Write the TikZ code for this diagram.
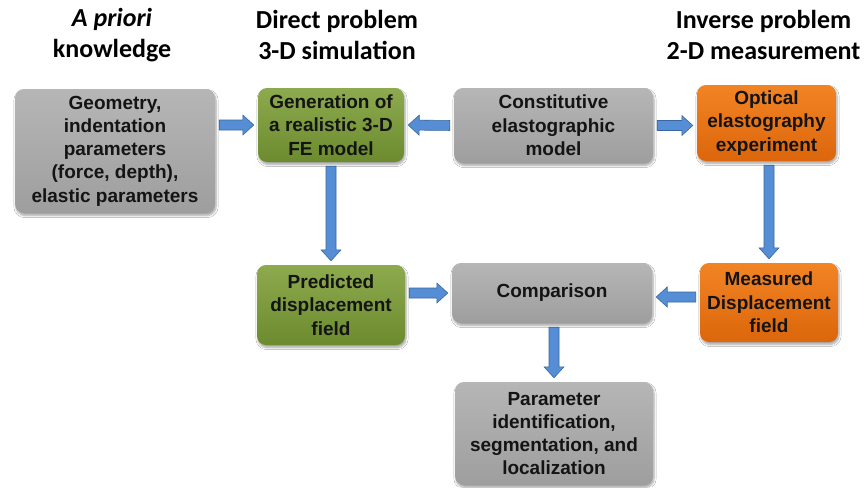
\documentclass[tikz,border=0pt]{standalone}
\usepackage{fontspec}
\setmainfont{Liberation Sans}
\newfontfamily\hdrfont{Carlito}
\usetikzlibrary{calc,shadows.blur}
\definecolor{grayT}{HTML}{B6B6B6}
\definecolor{grayB}{HTML}{9E9E9E}
\definecolor{greenT}{HTML}{8DAA4E}
\definecolor{greenB}{HTML}{6C8A2E}
\definecolor{orT}{HTML}{F28424}
\definecolor{orB}{HTML}{DC660B}
\definecolor{arrF}{HTML}{558ED5}
\definecolor{arrD}{HTML}{3A679F}
\tikzset{
  box/.style={rounded corners=9pt, align=center, inner sep=2pt,
    font=\bfseries\fontsize{19}{23.3}\selectfont, text=black!92,
    blur shadow={shadow xshift=1pt, shadow yshift=-2.5pt, shadow blur steps=6, shadow opacity=35}},
  graybox/.style={box, top color=grayT, bottom color=grayB},
  greenbox/.style={box, top color=greenT, bottom color=greenB},
  orbox/.style={box, top color=orT, bottom color=orB},
  hdr/.style={font=\hdrfont\bfseries\fontsize{26}{31}\selectfont, align=center, text=black},
  barrow/.style={fill=arrF, draw=arrD, line width=0.6pt, line join=miter}
}
\newcommand\blockarrow[2]{%
  \path[barrow] let \p1=#1, \p2=#2,
    \n1={veclen(\x2-\x1,\y2-\y1)}, \n2={(\x2-\x1)/\n1}, \n3={(\y2-\y1)/\n1} in
    ({\x1+4pt*(\n2)-5pt*(\n3)}, {\y1+4pt*(\n3)+5pt*(\n2)}) --
    ({\x2-15pt*(\n2)-5pt*(\n3)}, {\y2-15pt*(\n3)+5pt*(\n2)}) --
    ({\x2-15pt*(\n2)-10pt*(\n3)}, {\y2-15pt*(\n3)+10pt*(\n2)}) --
    ({\x2-4pt*(\n2)}, {\y2-4pt*(\n3)}) --
    ({\x2-15pt*(\n2)+10pt*(\n3)}, {\y2-15pt*(\n3)-10pt*(\n2)}) --
    ({\x2-15pt*(\n2)+5pt*(\n3)}, {\y2-15pt*(\n3)-5pt*(\n2)}) --
    ({\x1+4pt*(\n2)+5pt*(\n3)}, {\y1+4pt*(\n3)-5pt*(\n2)}) -- cycle;}
\begin{document}
\begin{tikzpicture}[x=1pt, y=-1pt]
\useasboundingbox[fill=white] (0,0) rectangle (866,487);
% headers
\node[hdr] (h1) at (112,35) {\itshape A priori\\knowledge};
\node[hdr] (h2) at (337,35) {Direct problem\\3-D simulation};
\node[hdr, anchor=east] (h3) at (864,35) {Inverse problem\\2-D measurement};
% boxes
\node[graybox, minimum width=200pt, minimum height=124pt] (geom) at (115,151)
  {Geometry,\\indentation\\parameters\\(force, depth),\\elastic parameters};
\node[greenbox, minimum width=146pt, minimum height=74pt] (gen) at (331,125)
  {Generation of\\a realistic 3-D\\FE model};
\node[graybox, minimum width=199pt, minimum height=75pt] (const) at (553.5,125.5)
  {Constitutive\\elastographic\\model};
\node[orbox, minimum width=139pt, minimum height=76pt] (opt) at (766.5,123)
  {Optical\\elastography\\experiment};
\node[greenbox, minimum width=148pt, minimum height=80pt] (pred) at (331,305)
  {Predicted\\displacement\\field};
\node[graybox, minimum width=200pt, minimum height=60pt] (comp) at (552,293)
  {Comparison};
\node[orbox, minimum width=138pt, minimum height=79pt] (meas) at (769,302.5)
  {Measured\\Displacement\\field};
\node[graybox, minimum width=198pt, minimum height=103pt] (param) at (554,433.5)
  {Parameter\\identification,\\segmentation, and\\localization};
% arrows
\blockarrow{(geom.east |- gen.west)}{(gen.west)}
\blockarrow{(const.west)}{(gen.east)}
\blockarrow{(const.east)}{(opt.west |- const.east)}
\blockarrow{(gen.south)}{(pred.north)}
\blockarrow{(meas.north |- opt.south)}{(meas.north)}
\blockarrow{(pred.east |- comp.west)}{(comp.west)}
\blockarrow{($(meas.west |- comp.east)+(0,4)$)}{($(comp.east)+(0,4)$)}
\blockarrow{(param.north |- comp.south)}{(param.north)}
\end{tikzpicture}
\end{document}
